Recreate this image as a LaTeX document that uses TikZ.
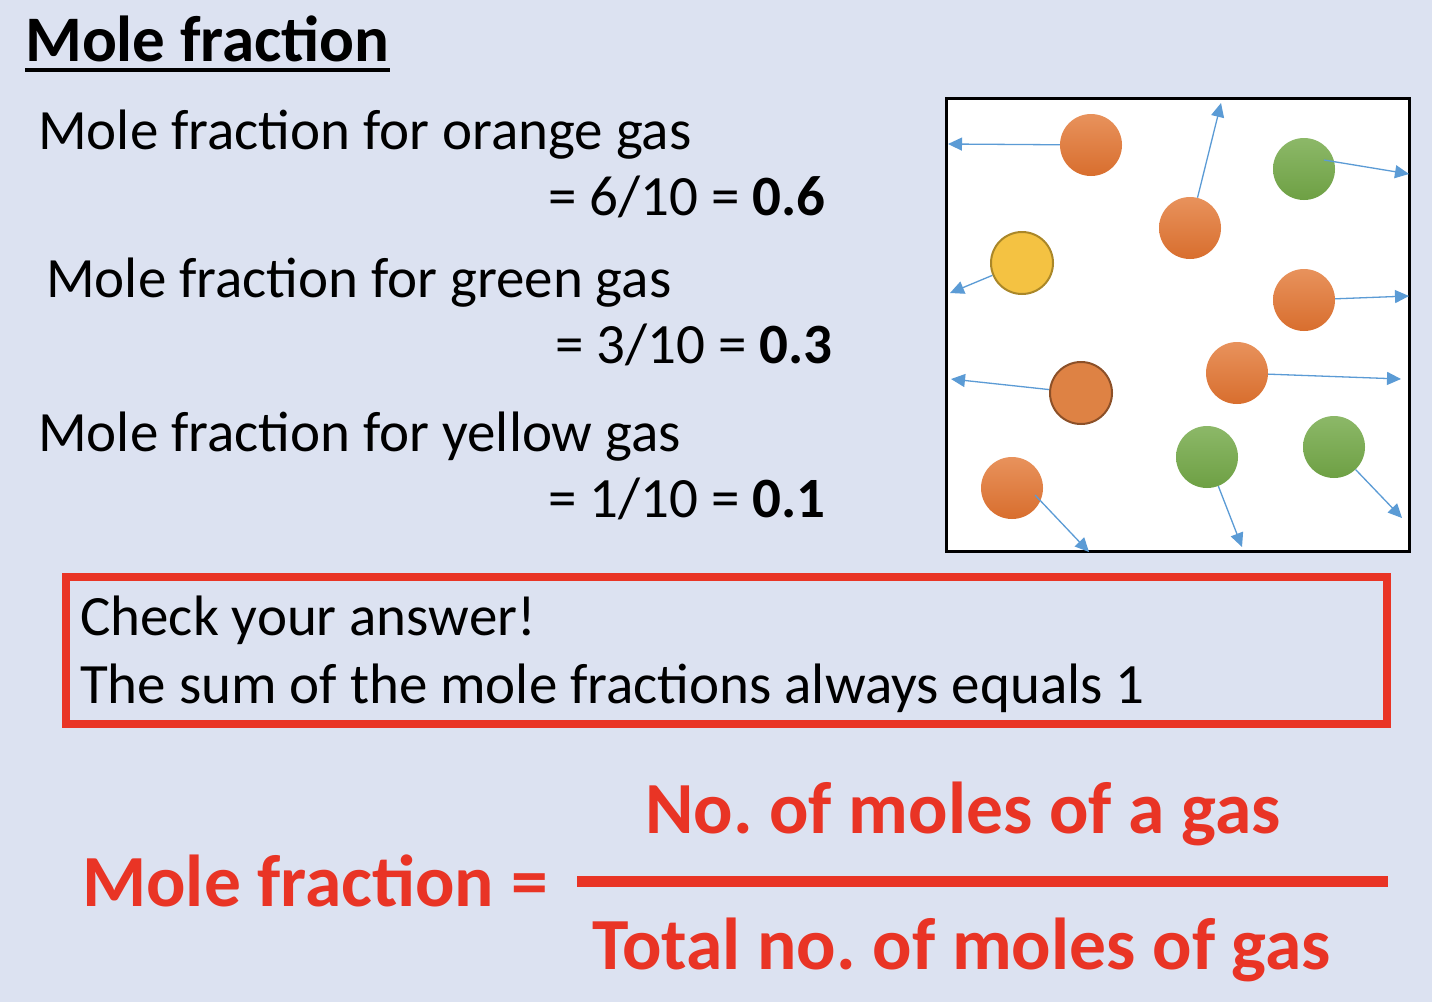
\documentclass[tikz,border=0pt]{standalone}
\usepackage{fontspec}
\setmainfont{Carlito}
\usetikzlibrary{arrows.meta, positioning}
\frenchspacing

\definecolor{slidebg}{RGB}{220,226,241}
\definecolor{alertred}{RGB}{233,52,37}
\definecolor{moveblue}{RGB}{91,155,213}
\definecolor{orangetop}{RGB}{232,146,92}
\definecolor{orangebot}{RGB}{216,110,46}
\definecolor{greentop}{RGB}{140,184,104}
\definecolor{greenbot}{RGB}{110,160,68}

\tikzset{
	ball/.style={circle, minimum size=62pt, inner sep=0pt},
	orangeball/.style={ball, top color=orangetop, bottom color=orangebot},
	greenball/.style={ball, top color=greentop, bottom color=greenbot},
	yellowball/.style={ball, fill={rgb,255:red,244;green,194;blue,66}, draw={rgb,255:red,170;green,135;blue,40}, line width=2pt},
	brownball/.style={ball, fill={rgb,255:red,222;green,130;blue,68}, draw={rgb,255:red,140;green,80;blue,40}, line width=2pt},
	move/.style={moveblue, line width=1.3pt, -{Triangle[length=14pt,width=13pt]}},
	body/.style={inner sep=0pt, font=\fontsize{57}{67}\selectfont},
	formula/.style={inner sep=0pt, anchor=base west, text=alertred, font=\fontsize{73.5}{86}\selectfont\bfseries},
}

\begin{document}
\begin{tikzpicture}[x=1pt, y=-1pt]

	\fill[slidebg] (0,0) rectangle (1432,1002);
	\useasboundingbox (0,0) rectangle (1432,1002);

	\node[inner sep=0pt, anchor=base west, font=\fontsize{65}{77}\selectfont\bfseries] (title) at (25,61) {Mole fraction};
	\draw[line width=3.5pt] ([yshift=-9pt]title.base west) -- ([yshift=-9pt]title.base east);

	\node[body, anchor=base west] (orange) at (38,149) {Mole fraction for orange gas};
	\node[body, anchor=base east] (orangeval) at (826,215) {= 6/10 = \textbf{0.6}};
	\node[body, anchor=base west] (green) at (46,297) {Mole fraction for green gas};
	\node[body, anchor=base east] (greenval) at (833,363) {= 3/10 = \textbf{0.3}};
	\node[body, anchor=base west] (yellow) at (38,451) {Mole fraction for yellow gas};
	\node[body, anchor=base east] (yellowval) at (826,517) {= 1/10 = \textbf{0.1}};

	\draw[black, line width=3pt, fill=white] (946,98) rectangle (1409,551);

	\node[orangeball] (o1) at (1091,145) {};
	\node[orangeball] (o2) at (1190,228) {};
	\node[greenball] (g1) at (1304,169) {};
	\node[yellowball] (y1) at (1022,263) {};
	\node[orangeball] (o3) at (1304,300) {};
	\node[orangeball] (o4) at (1237,373) {};
	\node[brownball] (o5) at (1081,393) {};
	\node[greenball] (g2) at (1207,457) {};
	\node[greenball] (g3) at (1334,447) {};
	\node[orangeball] (o6) at (1012,488) {};

	\coordinate (e1) at (948,144);
	\coordinate (e2) at (1221,103);
	\coordinate (e3) at (1409,174);
	\coordinate (e4) at (950,293);
	\coordinate (e5) at (1409,296);
	\coordinate (e6) at (1401,379);
	\coordinate (e7) at (951,379);
	\coordinate (e8) at (1242,547);
	\coordinate (e9) at (1402,518);
	\coordinate (e10) at (1089,552);

	\draw[move] (o1) -- (e1);
	\draw[move] (o2) -- (e2);
	\draw[move] (g1.center) ++(20,-9) -- (e3);
	\draw[move] (y1) -- (e4);
	\draw[move] (o3) -- (e5);
	\draw[move] (o4) -- (e6);
	\draw[move] (o5) -- (e7);
	\draw[move] (g2) -- (e8);
	\draw[move] (g3) -- (e9);
	\draw[move] (o6.center) ++(23,7) -- (e10);

	\node[draw=alertred, line width=8pt, minimum width=1321pt, minimum height=147pt, inner sep=0pt] (check) at (726.5,650.5) {};
	\node[body, anchor=base west] (checkone) at (80,635) {Check your answer!};
	\node[body, anchor=base west] (checktwo) at (80,703) {The sum of the mole fractions always equals 1};

	\node[formula] (lhs) at (82,906) {Mole fraction =};
	\node[formula] (num) at (645,833) {No. of moles of a gas};
	\node[formula] (den) at (592,969) {Total no. of moles of gas};
	\coordinate (barl) at (577,881);
	\coordinate (barr) at (1388,881);
	\draw[alertred, line width=11pt] (barl) -- (barr);
\end{tikzpicture}
\end{document}
